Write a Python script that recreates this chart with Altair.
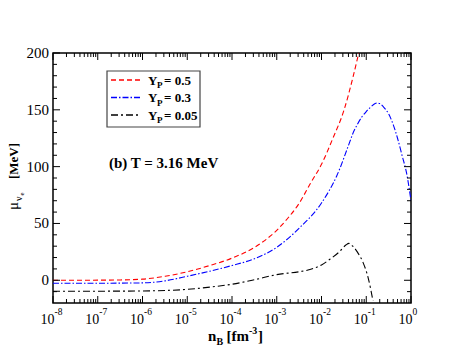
import altair as alt
import pandas as pd

# ---------------- data ----------------
red_x = [1e-8, 1e-7, 3.2e-7, 1e-6, 3.2e-6, 1e-5, 3.2e-5, 1e-4, 3.2e-4, 1e-3,
         1.8e-3, 3.2e-3, 5.6e-3, 1e-2, 1.8e-2, 3.2e-2, 5e-2, 6.8e-2]
red_y = [0, 0.1, 0.3, 1, 3.5, 7.5, 13, 19.5, 29, 44,
         55, 68, 85, 102, 125, 150, 178, 200]

blue_x = [1e-8, 1e-7, 1e-6, 3.2e-6, 1e-5, 3.2e-5, 1e-4, 3.2e-4, 1e-3, 3.2e-3,
          1e-2, 2.2e-2, 4.3e-2, 5e-2, 6.3e-2, 7.9e-2, 1e-1, 1.26e-1, 1.58e-1,
          1.75e-1, 2e-1, 2.5e-1, 3.2e-1, 4e-1, 5e-1, 6.3e-1, 8e-1, 1.0]
blue_y = [-2.6, -2.6, -2.3, -0.5, 3.5, 8, 13, 19, 29, 46,
          68, 92, 122, 129, 137, 143.5, 148.5, 152.5, 155.5,
          156, 155.5, 152, 146, 137, 125, 110, 94, 70]

black_x = [1e-8, 1e-7, 1e-6, 3.2e-6, 1e-5, 3.2e-5, 1e-4, 3.2e-4, 1e-3, 3.2e-3,
           5e-3, 1e-2, 1.6e-2, 2.5e-2, 3.5e-2, 4.1e-2, 5e-2, 6.3e-2, 8.5e-2,
           1.1e-1, 1.26e-1, 1.41e-1]
black_y = [-9.6, -9.6, -9.4, -9, -8, -6, -3.5, 0.5, 5, 7.5,
           9, 13.5, 19, 25, 31, 32.5, 30, 25, 15.5,
           2.4, -8, -18]

legend_vals = ["0.5", "0.3", "0.05"]
x_major = [1e-8, 1e-7, 1e-6, 1e-5, 1e-4, 1e-3, 1e-2, 1e-1, 1.0]
x_sup = ["-8", "-7", "-6", "-5", "-4", "-3", "-2", "-1", "0"]
x_minor = [k * d for d in x_major[:-1] for k in range(2, 10)]
y_major = [0, 50, 100, 150, 200]
y_minor = [-10, 10, 20, 30, 40, 60, 70, 80, 90, 110, 120, 130, 140, 160, 170, 180, 190]

# ---------------- styling ----------------
W, H = 358, 250
FONT = "Liberation Serif"
MAJ, MIN = 7, 4
xscale = alt.Scale(type="log", domain=[1e-8, 1], nice=False)
yscale = alt.Scale(domain=[-20, 200], nice=False, zero=False)
ONE = alt.Data(values=[{"a": 1}])


def X(f="x"):
    return alt.X(f + ":Q", scale=xscale, axis=None)


def Y(f="y"):
    return alt.Y(f + ":Q", scale=yscale, axis=None)


def curve(xs, ys, color, dash):
    df = pd.DataFrame({"x": xs, "y": ys})
    return alt.Chart(df).mark_line(color=color, strokeDash=dash, strokeWidth=1.1,
                                   interpolate="monotone", clip=True).encode(x=X(), y=Y())


layers = []
layers.append(curve(red_x, red_y, "#ff0000", [5, 3]))
layers.append(curve(blue_x, blue_y, "#0000ff", [6, 2, 1.5, 2]))
layers.append(curve(black_x, black_y, "#000000", [7, 3, 2, 3]))

# ticks (inside, mirrored)
for vals, L in ((x_major, MAJ), (x_minor, MIN)):
    df = pd.DataFrame({"x": vals})
    layers.append(alt.Chart(df).mark_rule(color="black", strokeWidth=1).encode(
        x=X(), y=alt.value(H), y2=alt.value(H - L)))
    layers.append(alt.Chart(df).mark_rule(color="black", strokeWidth=1).encode(
        x=X(), y=alt.value(0), y2=alt.value(L)))
for vals, L in ((y_major, MAJ), (y_minor, MIN)):
    df = pd.DataFrame({"y": vals})
    layers.append(alt.Chart(df).mark_rule(color="black", strokeWidth=1).encode(
        y=Y(), x=alt.value(0), x2=alt.value(L)))
    layers.append(alt.Chart(df).mark_rule(color="black", strokeWidth=1).encode(
        y=Y(), x=alt.value(W), x2=alt.value(W - L)))

# x tick labels 10^n
xl = pd.DataFrame({"x": x_major, "sup": x_sup})
layers.append(alt.Chart(xl).mark_text(align="right", baseline="alphabetic", dx=1.5,
                                      font=FONT, fontSize=14, color="black").encode(
    x=X(), y=alt.value(271), text=alt.value("10")))
layers.append(alt.Chart(xl).mark_text(align="left", baseline="alphabetic", dx=1.5,
                                      font=FONT, fontSize=9.5, color="black").encode(
    x=X(), y=alt.value(262), text="sup:N"))

# y tick labels
yl = pd.DataFrame({"y": y_major, "lab": [str(v) for v in y_major]})
layers.append(alt.Chart(yl).mark_text(align="right", baseline="middle",
                                      font=FONT, fontSize=15, color="black").encode(
    y=Y(), x=alt.value(-4), text="lab:N"))


def txt(s, x, y, size, bold=True, align="left", angle=0):
    kw = dict(align=align, baseline="alphabetic", font=FONT, fontSize=size,
              fontWeight="bold" if bold else "normal", color="black")
    if angle:
        kw["angle"] = angle
    return alt.Chart(ONE).mark_text(**kw).encode(
        x=alt.value(x), y=alt.value(y), text=alt.value(s))


# x title: n_B [fm^-3]
layers += [txt("n", 155, 288, 15), txt("B", 163.5, 292, 10),
           txt("[fm", 173.5, 288, 15), txt("-3", 196, 281, 10), txt("]", 205, 288, 15)]

# y title: mu_{nu_e} [MeV]
layers += [txt("μ", -35, 157, 15, bold=False, angle=270),
           txt("ν", -31.5, 148, 10, bold=False, angle=270),
           txt("e", -29.5, 142.5, 7, bold=False, angle=270),
           txt("[MeV]", -35, 126, 13, angle=270)]

# annotation
layers.append(txt("(b) T = 3.16 MeV", 56, 115, 15))

# legend box
layers.append(alt.Chart(ONE).mark_rect(fill="white", stroke="#444444", strokeWidth=1.2).encode(
    x=alt.value(54), x2=alt.value(147), y=alt.value(18), y2=alt.value(74)))
rows = [27, 44.5, 62]
styles = [("#ff0000", [5, 3]), ("#0000ff", [6, 2, 1.5, 2]), ("#000000", [7, 3, 2, 3])]
for ry, (col, dash), v in zip(rows, styles, legend_vals):
    layers.append(alt.Chart(ONE).mark_rule(color=col, strokeDash=dash, strokeWidth=1.3).encode(
        x=alt.value(58), x2=alt.value(87), y=alt.value(ry)))
    layers += [txt("Y", 95, ry + 4.5, 13), txt("P", 104, ry + 8, 9),
               txt("= " + v, 111, ry + 4.5, 13)]

chart = alt.layer(*layers).properties(
    width=W, height=H,
    padding={"left": 45, "top": 45, "right": 44, "bottom": 47},
    autosize=alt.AutoSizeParams(type="none"),
    background="white",
).configure_view(stroke="black", strokeWidth=1.5)

chart.save("out.html", embed_options={"renderer": "svg", "actions": False})
